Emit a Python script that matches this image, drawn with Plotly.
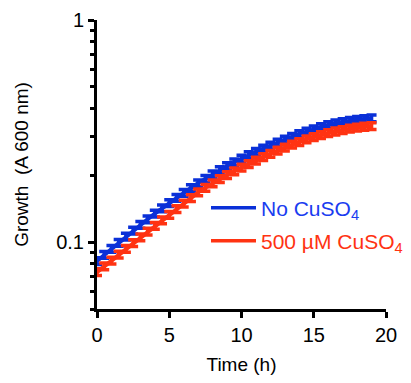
import plotly.graph_objects as go

time_h = [i * 0.5 for i in range(39)]  # 0 .. 19 h

no_cuso4 = [0.0822, 0.0876, 0.0933, 0.0994, 0.1059, 0.1126, 0.1197, 0.1268, 0.1343, 0.1420,
            0.1500, 0.1582, 0.1667, 0.1753, 0.1841, 0.1930, 0.2018, 0.2108, 0.2198, 0.2288,
            0.2377, 0.2466, 0.2553, 0.2638, 0.2723, 0.2810, 0.2897, 0.2980, 0.3062, 0.3143,
            0.3221, 0.3295, 0.3365, 0.3423, 0.3475, 0.3518, 0.3556, 0.3583, 0.3606]

cuso4_500 = [0.0733, 0.0778, 0.0826, 0.0878, 0.0933, 0.0991, 0.1052, 0.1116, 0.1183, 0.1253,
             0.1327, 0.1410, 0.1490, 0.1580, 0.1675, 0.1757, 0.1841, 0.1922, 0.2004, 0.2086,
             0.2168, 0.2248, 0.2328, 0.2414, 0.2500, 0.2584, 0.2667, 0.2747, 0.2825, 0.2900,
             0.2972, 0.3037, 0.3097, 0.3150, 0.3199, 0.3242, 0.3281, 0.3309, 0.3334]

err_pct = 3.5

series_names = ["No CuSO<sub>4</sub>", "500 µM CuSO<sub>4</sub>"]
series_colors = ["#0A30D8", "#FF3312"]
text_colors = ["#1A3CF0", "#FF3312"]

x_ticks = [0, 5, 10, 15, 20]
y_ticks = [0.1, 1]
y_ticktext = ["0.1", "1"]
y_minor = [0.05, 0.06, 0.07, 0.08, 0.09, 0.2, 0.3, 0.4, 0.5, 0.6, 0.7, 0.8, 0.9]

FONT = "Arial, Liberation Sans, Helvetica, sans-serif"

fig = go.Figure()
for ys, col in zip([no_cuso4, cuso4_500], series_colors):
    fig.add_trace(go.Scatter(
        x=time_h, y=ys, mode="lines",
        line=dict(color=col, width=4),
        error_y=dict(type="percent", value=err_pct, color=col, thickness=3.5, width=5),
        showlegend=False, hoverinfo="skip"))

legend_ids = ["legend", "legend2"]
for name, col, lid in zip(series_names, series_colors, legend_ids):
    fig.add_trace(go.Scatter(
        x=[None], y=[None], mode="lines", name=name,
        line=dict(color=col, width=3.5), legend=lid))

# page body has an 8px default margin; compensate so the plot area sits at
# page x 97..386 and page y 20..309
OFF = 8
W, H = 411, 383
ml, mr, mt, mb = 97 - OFF, 25 + OFF, 20 - OFF, 74 + OFF
pw, ph = W - ml - mr, H - mt - mb
PL, PB = 97, 309  # page coords of plot-area left / bottom

def px_x(p):
    return (p - PL) / pw

def px_y(p):
    return (PB - p) / ph

leg_common = dict(bgcolor="rgba(0,0,0,0)", borderwidth=0, itemwidth=45,
                  xanchor="left", yanchor="middle", tracegroupgap=0)

fig.update_layout(
    width=W, height=H,
    margin=dict(l=ml, r=mr, t=mt, b=mb, autoexpand=False),
    paper_bgcolor="white", plot_bgcolor="white",
    font=dict(family=FONT, size=19, color="black"),
    legend=dict(x=px_x(206), y=px_y(208), font=dict(family=FONT, size=21, color=text_colors[0]), **leg_common),
    legend2=dict(x=px_x(206), y=px_y(241), font=dict(family=FONT, size=21, color=text_colors[1]), **leg_common),
    xaxis=dict(
        range=[0, 20], tickvals=x_ticks, ticks="outside", ticklen=6, tickwidth=3,
        tickcolor="black", showline=True, linewidth=3, linecolor="black",
        showgrid=False, zeroline=False, tickfont=dict(size=20), automargin=False,
        title=dict(text="Time (h)", font=dict(size=19), standoff=13)),
    yaxis=dict(
        type="log", range=[-1.30103, 0], tickvals=y_ticks, ticktext=y_ticktext,
        ticks="outside", ticklen=6, tickwidth=3, tickcolor="black",
        showline=True, linewidth=3, linecolor="black", showgrid=False, zeroline=False,
        tickfont=dict(size=20), automargin=False,
        minor=dict(tickvals=y_minor, ticks="outside", ticklen=4, tickwidth=3,
                   tickcolor="black", showgrid=False),
        title=dict(text="Growth  (A 600 nm)", font=dict(size=19), standoff=23)),
)

fig.write_html("out.html")
